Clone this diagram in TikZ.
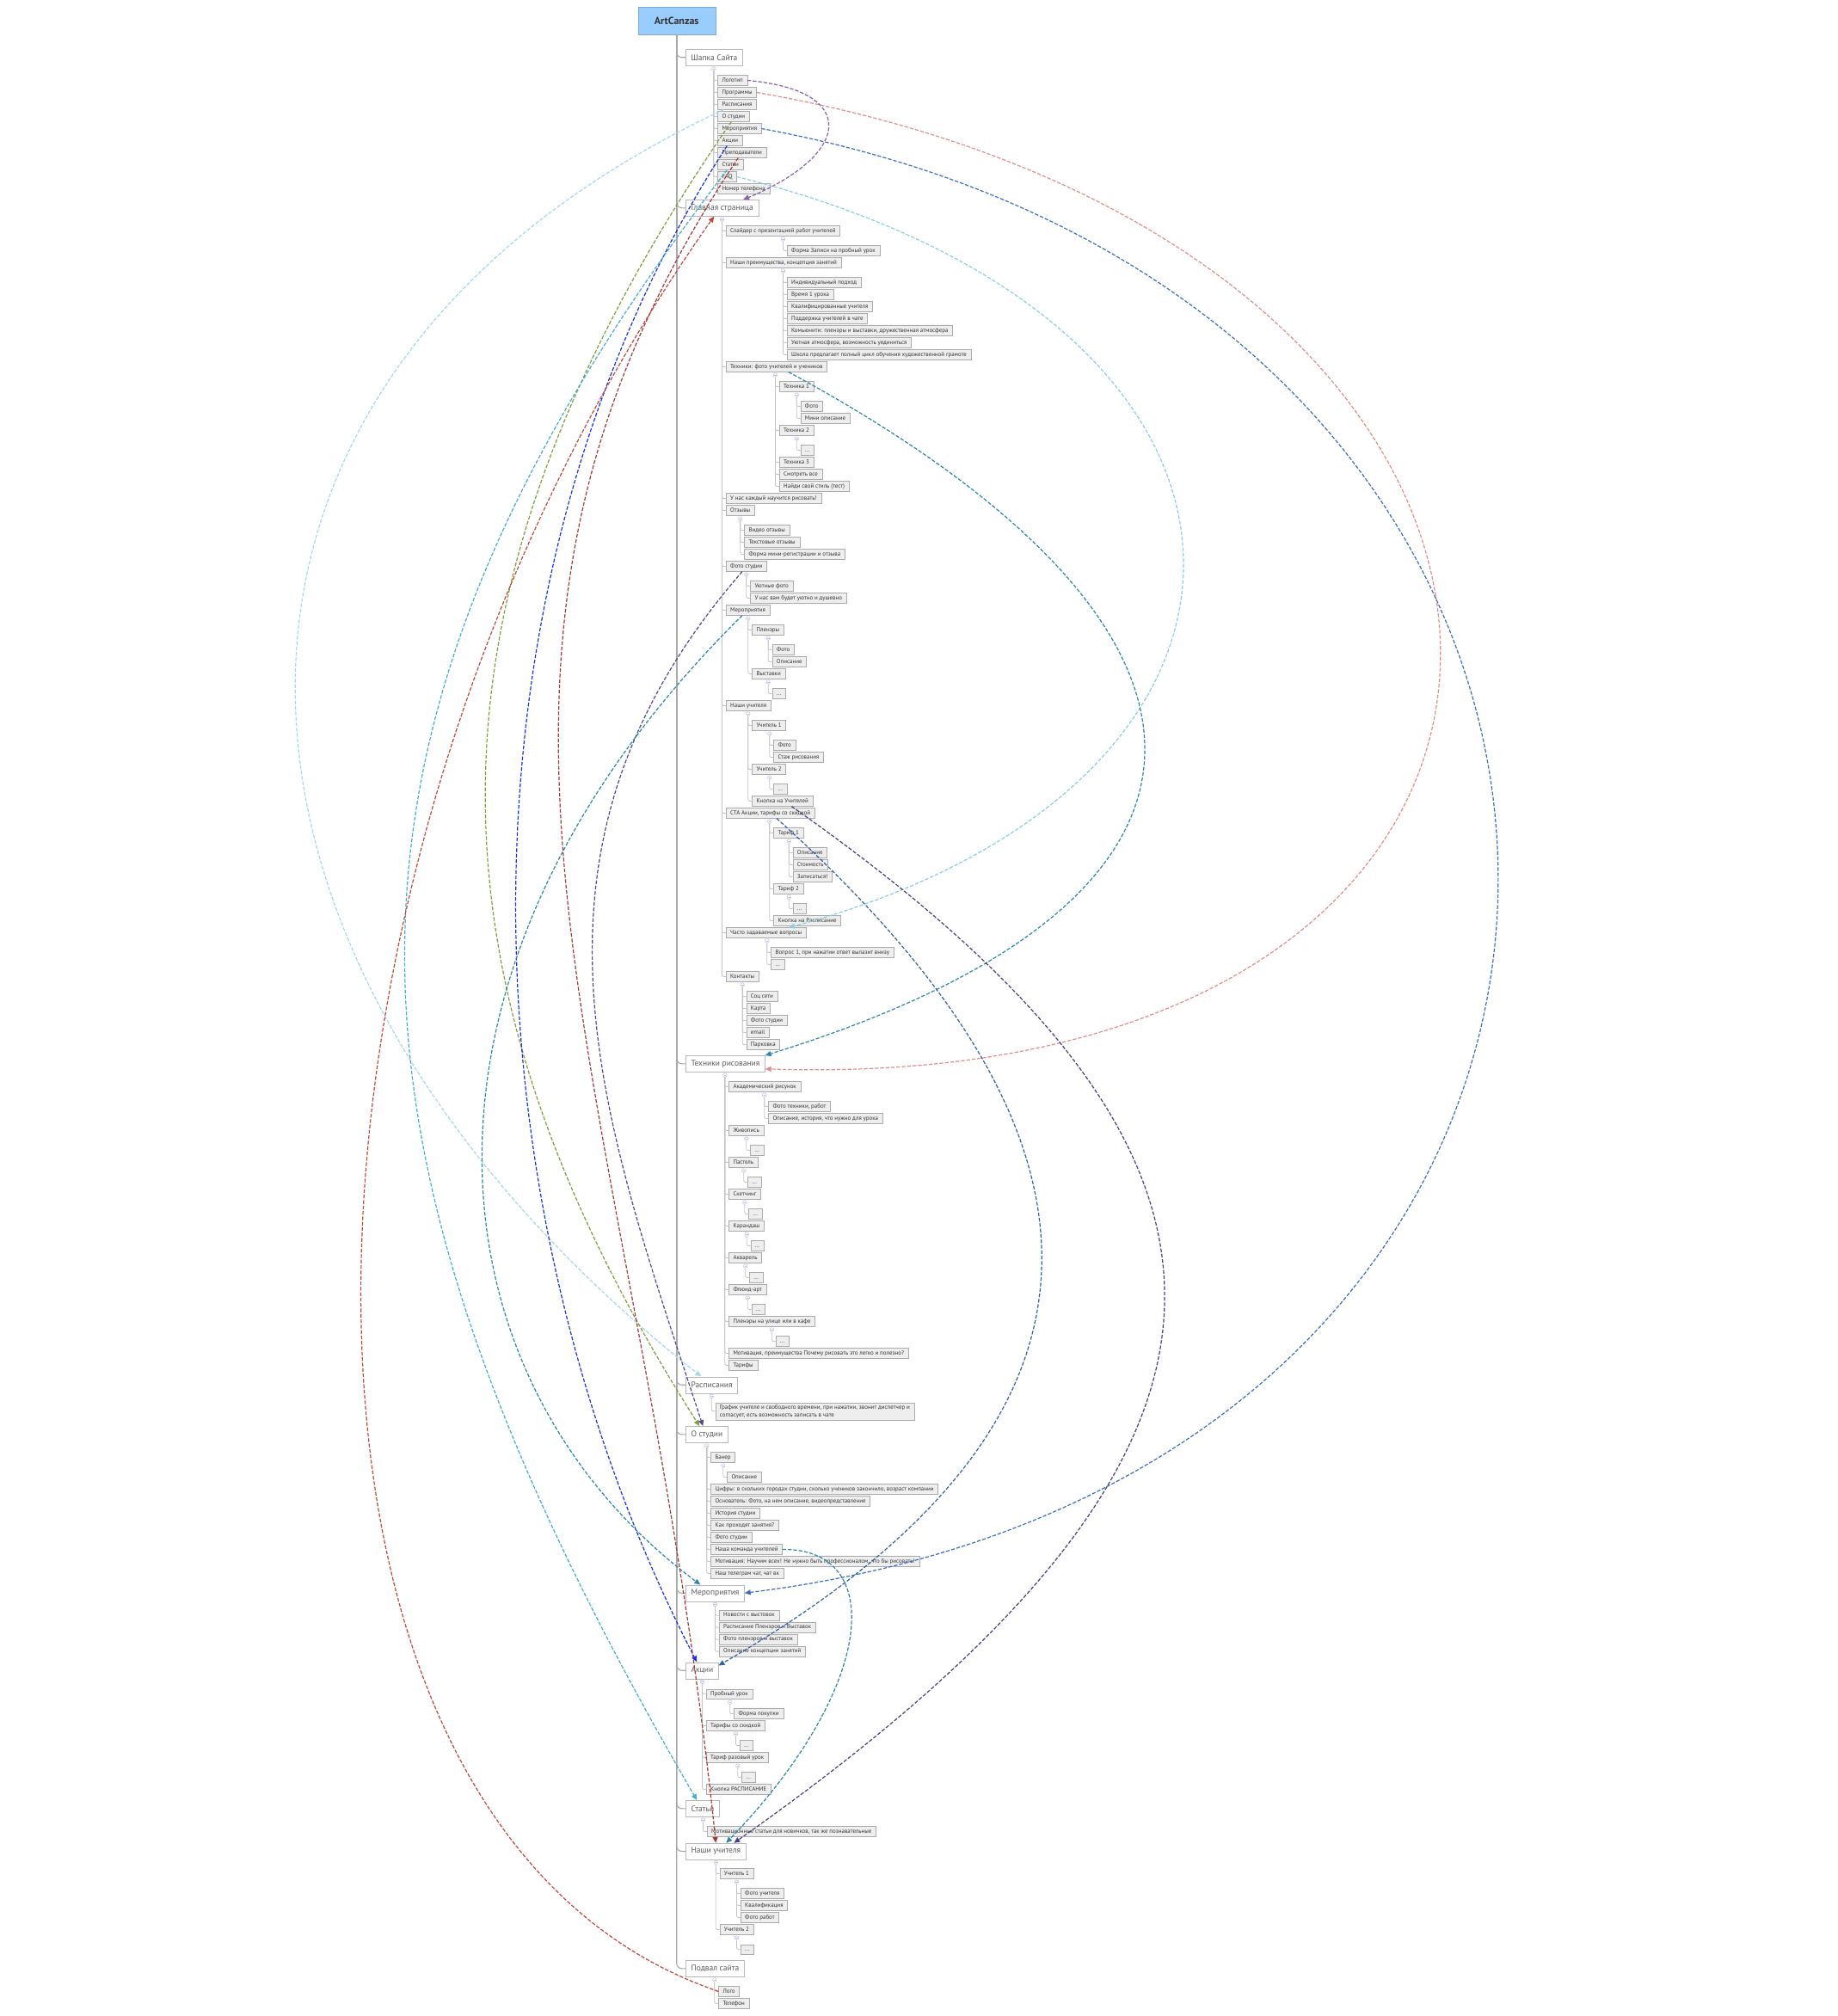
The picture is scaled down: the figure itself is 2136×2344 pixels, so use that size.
\documentclass[tikz,border=0pt]{standalone}
\usepackage{fontspec}
\setmainfont{PT Sans}
\usetikzlibrary{arrows.meta, calc, positioning}

\definecolor{rootfill}{HTML}{99CCFF}
\definecolor{rootline}{HTML}{7FA7D0}
\definecolor{topicline}{HTML}{B8B8B8}
\definecolor{itemfill}{HTML}{EEEEEE}
\definecolor{itemline}{HTML}{ABABAB}
\definecolor{trunkgray}{HTML}{A8A8A8}
\definecolor{branchgray}{HTML}{C4C4C4}
\definecolor{foldblue}{HTML}{B4C2E0}
\definecolor{txtdark}{HTML}{333333}
\definecolor{txtgray}{HTML}{5A5A5A}
\definecolor{relPurple}{HTML}{8462AE}
\definecolor{relPink}{HTML}{E38C8C}
\definecolor{relSky}{HTML}{A6D9E8}
\definecolor{relOlive}{HTML}{7F9E3C}
\definecolor{relBlue}{HTML}{1A2EF5}
\definecolor{relMaroon}{HTML}{A23A3A}
\definecolor{relCyan}{HTML}{45AECF}
\definecolor{relSkyB}{HTML}{8FCDE0}
\definecolor{relRed}{HTML}{C4473F}
\definecolor{relSteel}{HTML}{3C6FBF}
\definecolor{relTeal}{HTML}{2C87A6}
\definecolor{relGrape}{HTML}{56478C}
\definecolor{relNavy}{HTML}{4A3F7E}
\definecolor{relSteelB}{HTML}{3462A3}

\tikzset{
  root/.style={rectangle, draw=rootline, fill=rootfill, minimum width=90pt, minimum height=32pt,
               font=\fontsize{12}{14}\selectfont\bfseries, text=txtdark},
  topic/.style={rectangle, draw=topicline, fill=white, minimum height=19pt, inner xsep=6pt, inner ysep=0pt,
                font=\fontsize{9.5}{11}\selectfont, text=txtgray, anchor=west},
  itembox/.style={rectangle, draw=itemline, fill=itemfill, minimum height=11.7pt, inner xsep=5pt, inner ysep=0pt,
                  font=\fontsize{6.9}{9}\selectfont, text=txtdark, anchor=west},
  item/.style={itembox, text height=4.8pt, text depth=1.4pt},
  trunk/.style={draw=trunkgray, line width=1.1pt, rounded corners=6pt},
  branch/.style={draw=branchgray, line width=0.8pt, rounded corners=2pt},
  fold/.style={circle, draw=foldblue, fill=white, inner sep=0pt, minimum size=4.6pt, line width=0.5pt,
               path picture={\draw[foldblue, line width=0.5pt] ([xshift=-1.3pt]path picture bounding box.center) -- ([xshift=1.3pt]path picture bounding box.center);}},
  rel/.style={dash pattern=on 4.3pt off 2pt, line width=1.2pt, -{Triangle[length=7pt, width=6pt]}},
}

\begin{document}
\begin{tikzpicture}[x=1pt, y=-1pt]
  \useasboundingbox (0,0) rectangle (2136,2344);

  % root and main topics
  \node[root] (root) at (786.7,24.2) {ArtCanzas};
  \node[topic] (hdr) at (797.3,66.8) {Шапка Сайта};
  \node[topic] (home) at (797.3,241.8) {Главная страница};
  \node[topic] (tech) at (797.3,1236.8) {Техники рисования};
  \node[topic] (sched) at (797.3,1610.2) {Расписания};
  \node[topic] (about) at (797.3,1667.8) {О студии};
  \node[topic] (events) at (797.3,1852.2) {Мероприятия};
  \node[topic] (sales) at (797.3,1942.2) {Акции};
  \node[topic] (art) at (797.3,2102.8) {Статьи};
  \node[topic] (teachers) at (797.3,2152.5) {Наши учителя};
  \node[topic] (foot) at (797.3,2288.8) {Подвал сайта};

  \foreach \t in {hdr,home,tech,sched,about,events,sales,art,teachers,foot}
    \draw[trunk] (root.south) |- (\t.west);

  % Шапка Сайта
  \node[item] (hdrLogo) at (834.3,93.5) {Логотип};
  \node[item] (hdrProg) at (834.3,107.5) {Программы};
  \node[item] (hdrSched) at (834.3,121.5) {Расписания};
  \node[item] (hdrAbout) at (834.3,135.5) {О студии};
  \node[item] (hdrEvents) at (834.3,149.5) {Мероприятия};
  \node[item] (hdrSales) at (834.3,163.5) {Акции};
  \node[item] (hdrTeach) at (834.3,177.5) {Преподаватели};
  \node[item] (hdrArt) at (834.3,191.5) {Статьи};
  \node[item] (hdrFaq) at (834.3,205.5) {FAQ};
  \node[item] (hdrPhone) at (834.3,219.5) {Номер телефона};

  % Главная страница
  \node[item] (homeSlider) at (844,268.5) {Слайдер с презентацией работ учителей};
  \node[item] (homeForm) at (915,291.5) {Форма Записи на пробный урок};
  \node[item] (homeAdv) at (844,305.5) {Наши преимущества, концепция занятий};
  \node[item] (adv1) at (915,328.5) {Индивидуальный подход};
  \node[item] (adv2) at (915,342.5) {Время 1 урока};
  \node[item] (adv3) at (915,356.5) {Квалифицированные учителя};
  \node[item] (adv4) at (915,370.5) {Поддержка учителей в чате};
  \node[item] (adv5) at (915,384.5) {Комьюнити: пленэры и выставки, дружественная атмосфера};
  \node[item] (adv6) at (915,398.5) {Уютная атмосфера, возможность уединиться};
  \node[item] (adv7) at (915,412.5) {Школа предлагает полный цикл обучения художественной грамоте};
  \node[item] (homeTech) at (844,426.5) {Техники: фото учителей и учеников};
  \node[item] (tech1) at (906,449.5) {Техника 1};
  \node[item] (tech1a) at (930.7,472.5) {Фото};
  \node[item] (tech1b) at (930.7,486.5) {Мини описание};
  \node[item] (tech2) at (906,500.5) {Техника 2};
  \node[item] (tech2a) at (930.7,523.5) {...};
  \node[item] (tech3) at (906,537.5) {Техника 3};
  \node[item] (techAll) at (906,551.5) {Смотреть все};
  \node[item] (techTest) at (906,565.5) {Найди свой стиль (тест)};
  \node[item] (homeLearn) at (844,579.5) {У нас каждый научится рисовать!};
  \node[item] (homeRev) at (844,593.5) {Отзывы};
  \node[item] (rev1) at (865.3,616.5) {Видео отзывы};
  \node[item] (rev2) at (865.3,630.5) {Текстовые отзывы};
  \node[item] (rev3) at (865.3,644.5) {Форма мини-регистрации и отзыва};
  \node[item] (homePhoto) at (844,658.5) {Фото студии};
  \node[item] (photo1) at (872.3,681.5) {Уютные фото};
  \node[item] (photo2) at (872.3,695.5) {У нас вам будет уютно и душевно};
  \node[item] (homeEvents) at (844,709.5) {Мероприятия};
  \node[item] (evPlein) at (874.3,732.5) {Пленэры};
  \node[item] (evPlein1) at (897.7,755.5) {Фото};
  \node[item] (evPlein2) at (897.7,769.5) {Описание};
  \node[item] (evExpo) at (874.3,783.5) {Выставки};
  \node[item] (evExpo1) at (897.7,806.5) {...};
  \node[item] (homeTeach) at (844,820.5) {Наши учителя};
  \node[item] (teach1) at (874.3,843.5) {Учитель 1};
  \node[item] (teach1a) at (899.3,866.5) {Фото};
  \node[item] (teach1b) at (899.3,880.5) {Стаж рисования};
  \node[item] (teach2) at (874.3,894.5) {Учитель 2};
  \node[item] (teach2a) at (899.3,917.5) {...};
  \node[item] (teachBtn) at (874.3,931.5) {Кнопка на Учителей};
  \node[item] (homeCta) at (844,945.5) {CTA Акции, тарифы со скидкой};
  \node[item] (cta1) at (899.3,968.5) {Тариф 1};
  \node[item] (cta1a) at (921.7,991.5) {Описание};
  \node[item] (cta1b) at (921.7,1005.5) {Стоимость};
  \node[item] (cta1c) at (921.7,1019.5) {Записаться!};
  \node[item] (cta2) at (899.3,1033.5) {Тариф 2};
  \node[item] (cta2a) at (921.7,1056.5) {...};
  \node[item] (ctaBtn) at (899.3,1070.5) {Кнопка на Расписание};
  \node[item] (homeFaq) at (844,1084.5) {Часто задаваемые вопросы};
  \node[item] (faq1) at (896.3,1107.5) {Вопрос 1, при нажатии ответ вылазит внизу};
  \node[item] (faq2) at (896.3,1121.5) {...};
  \node[item] (homeCont) at (844,1135.5) {Контакты};
  \node[item] (cont1) at (867.7,1158.5) {Соц сети};
  \node[item] (cont2) at (867.7,1172.5) {Карта};
  \node[item] (cont3) at (867.7,1186.5) {Фото студии};
  \node[item] (cont4) at (867.7,1200.5) {email};
  \node[item] (cont5) at (867.7,1214.5) {Парковка};

  % Техники рисования
  \node[item] (techAcad) at (847.3,1263.5) {Академический рисунок};
  \node[item] (acad1) at (893.3,1286.5) {Фото техники, работ};
  \node[item] (acad2) at (893.3,1300.5) {Описание, история, что нужно для урока};
  \node[item] (techPaint) at (847.3,1314.5) {Живопись};
  \node[item] (paint1) at (872.3,1337.5) {...};
  \node[item] (techPast) at (847.3,1351.5) {Пастель};
  \node[item] (past1) at (869.3,1374.5) {...};
  \node[item] (techSketch) at (847.3,1388.5) {Скетчинг};
  \node[item] (sketch1) at (870.3,1411.5) {...};
  \node[item] (techPenc) at (847.3,1425.5) {Карандаш};
  \node[item] (penc1) at (872.7,1448.5) {...};
  \node[item] (techWater) at (847.3,1462.5) {Акварель};
  \node[item] (water1) at (871.3,1485.5) {...};
  \node[item] (techFluid) at (847.3,1499.5) {Флюид-арт};
  \node[item] (fluid1) at (873.7,1522.5) {...};
  \node[item] (techPlein) at (847.3,1536.5) {Пленэры на улице или в кафе};
  \node[item] (plein1) at (901.7,1559.5) {...};
  \node[item] (techMot) at (847.3,1573.5) {Мотивация, преимущества Почему рисовать это легко и полезно?};
  \node[item] (techTar) at (847.3,1587.5) {Тарифы};

  % Расписания
  \node[itembox, minimum height=20pt, align=left] (schedText) at (831.7,1640.7)
    {График учителе и свободного времени, при нажатии, звонит диспетчер и\\согласует, есть возможность записать в чате};

  % О студии
  \node[item] (aboutBan) at (826.3,1694.5) {Банер};
  \node[item] (ban1) at (845.3,1717.5) {Описание};
  \node[item] (aboutNum) at (826.3,1731.5) {Цифры: в скольких городах студии, сколько учеников закончило, возраст компании};
  \node[item] (aboutFound) at (826.3,1745.5) {Основатель: Фото, на нем описание, видеопредставление};
  \node[item] (aboutHist) at (826.3,1759.5) {История студии};
  \node[item] (aboutHow) at (826.3,1773.5) {Как проходят занятия?};
  \node[item] (aboutPhoto) at (826.3,1787.5) {Фото студии};
  \node[item] (aboutTeam) at (826.3,1801.5) {Наша команда учителей};
  \node[item] (aboutMot) at (826.3,1815.5) {Мотивация: Научим всех! Не нужно быть профессионалом, что бы рисовать!};
  \node[item] (aboutTg) at (826.3,1829.5) {Наш телеграм чат, чат вк};

  % Мероприятия
  \node[item] (ev1) at (836,1878.2) {Новости с выстовок};
  \node[item] (ev2) at (836,1892.2) {Расписание Пленэров и Выставок};
  \node[item] (ev3) at (836,1906.2) {Фото пленэров и выставок};
  \node[item] (ev4) at (836,1920.2) {Описание концепции занятий};

  % Акции
  \node[item] (saleTrial) at (821,1969.7) {Пробный урок};
  \node[item] (trial1) at (853.3,1992.5) {Форма покупки};
  \node[item] (saleDisc) at (821,2006.5) {Тарифы со скидкой};
  \node[item] (disc1) at (860,2029.5) {...};
  \node[item] (saleOne) at (821,2043.5) {Тариф разовый урок};
  \node[item] (one1) at (862.3,2066.5) {...};
  \node[item] (saleBtn) at (821,2080.5) {Кнопка РАСПИСАНИЕ};

  % Статьи
  \node[item] (art1) at (822,2129.5) {Мотивационные статьи для новичков, так же познавательные};

  % Наши учителя
  \node[item] (tchr1) at (836.7,2178.5) {Учитель 1};
  \node[item] (tchr1a) at (861,2201.5) {Фото учителя};
  \node[item] (tchr1b) at (861,2215.5) {Квалификация};
  \node[item] (tchr1c) at (861,2229.5) {Фото работ};
  \node[item] (tchr2) at (836.7,2243.5) {Учитель 2};
  \node[item] (tchr2a) at (861,2266.8) {...};

  % Подвал сайта
  \node[item] (footLogo) at (835.3,2315.3) {Лого};
  \node[item] (footPhone) at (835.3,2329.5) {Телефон};

  % branch lines with fold markers
  \foreach \p/\first/\kids in {
      hdr/hdrLogo/{hdrLogo,hdrProg,hdrSched,hdrAbout,hdrEvents,hdrSales,hdrTeach,hdrArt,hdrFaq,hdrPhone},
      home/homeSlider/{homeSlider,homeAdv,homeTech,homeLearn,homeRev,homePhoto,homeEvents,homeTeach,homeCta,homeFaq,homeCont},
      homeSlider/homeForm/{homeForm},
      homeAdv/adv1/{adv1,adv2,adv3,adv4,adv5,adv6,adv7},
      homeTech/tech1/{tech1,tech2,tech3,techAll,techTest},
      tech1/tech1a/{tech1a,tech1b},
      tech2/tech2a/{tech2a},
      homeRev/rev1/{rev1,rev2,rev3},
      homePhoto/photo1/{photo1,photo2},
      homeEvents/evPlein/{evPlein,evExpo},
      evPlein/evPlein1/{evPlein1,evPlein2},
      evExpo/evExpo1/{evExpo1},
      homeTeach/teach1/{teach1,teach2,teachBtn},
      teach1/teach1a/{teach1a,teach1b},
      teach2/teach2a/{teach2a},
      homeCta/cta1/{cta1,cta2,ctaBtn},
      cta1/cta1a/{cta1a,cta1b,cta1c},
      cta2/cta2a/{cta2a},
      homeFaq/faq1/{faq1,faq2},
      homeCont/cont1/{cont1,cont2,cont3,cont4,cont5},
      tech/techAcad/{techAcad,techPaint,techPast,techSketch,techPenc,techWater,techFluid,techPlein,techMot,techTar},
      techAcad/acad1/{acad1,acad2},
      techPaint/paint1/{paint1},
      techPast/past1/{past1},
      techSketch/sketch1/{sketch1},
      techPenc/penc1/{penc1},
      techWater/water1/{water1},
      techFluid/fluid1/{fluid1},
      techPlein/plein1/{plein1},
      sched/schedText/{schedText},
      about/aboutBan/{aboutBan,aboutNum,aboutFound,aboutHist,aboutHow,aboutPhoto,aboutTeam,aboutMot,aboutTg},
      aboutBan/ban1/{ban1},
      events/ev1/{ev1,ev2,ev3,ev4},
      sales/saleTrial/{saleTrial,saleDisc,saleOne,saleBtn},
      saleTrial/trial1/{trial1},
      saleDisc/disc1/{disc1},
      saleOne/one1/{one1},
      art/art1/{art1},
      teachers/tchr1/{tchr1,tchr2},
      tchr1/tchr1a/{tchr1a,tchr1b,tchr1c},
      tchr2/tchr2a/{tchr2a},
      foot/footLogo/{footLogo,footPhone}} {
    \node[fold] (f-\p) at ($(\p.south -| \first.west)+(-4.5,3.5)$) {};
    \foreach \c in \kids
      \draw[branch] (f-\p.south) |- (\c.west);
  }

  % relationships
  \draw[rel, draw=relPurple] (hdrLogo.east) .. controls (1000,105) and (990,180) .. ([xshift=-18pt]home.north east);
  \draw[rel, draw=relPink] (hdrProg.east) .. controls (1937,292) and (1937,1276) .. ([yshift=-6pt]tech.east);
  \draw[rel, draw=relSky] ([xshift=7pt]hdrSched.south west) .. controls (180,436) and (185,1100) .. ([xshift=18pt]sched.north west);
  \draw[rel, draw=relOlive] ([xshift=16pt]hdrAbout.south west) .. controls (480,679) and (472,1121) .. ([xshift=16pt]about.north west);
  \draw[rel, draw=relBlue] ([xshift=11pt]hdrSales.south west) .. controls (508,690) and (540,1410) .. ([xshift=13pt]sales.north west);
  \draw[rel, draw=relMaroon] ([xshift=24pt]hdrTeach.south west) .. controls (458,783) and (739,1243) .. ([xshift=35pt]teachers.north west);
  \draw[rel, draw=relCyan] ([xshift=11pt]hdrArt.south west) .. controls (345,853) and (359,1317) .. ([xshift=13pt]art.north west);
  \draw[rel, draw=relSkyB] (hdrFaq.east) .. controls (1537,375) and (1538,911) .. ([xshift=73pt]homeFaq.north west);
  \draw[rel, draw=relSteel] (hdrEvents.east) .. controls (2030,360) and (2029,1708) .. (events.east);
  \draw[rel, draw=relRed] (footLogo.west) .. controls (275,2125) and (290,1019) .. ([xshift=33pt]home.south west);
  \draw[rel, draw=relTeal] ([xshift=14pt]homeTech.south) .. controls (1472,733) and (1473,1047) .. (tech.north east);
  \draw[rel, draw=relGrape] ([xshift=19pt]homePhoto.south west) .. controls (580,990) and (700,1300) .. ([xshift=20pt]about.north west);
  \draw[rel, draw=relTeal] ([xshift=19pt]homeEvents.south west) .. controls (443,1130) and (494,1604) .. ([xshift=17pt]events.north west);
  \draw[rel, draw=relNavy] ([xshift=46pt]teachBtn.south west) .. controls (1510,1351) and (1507,1683) .. ([xshift=56pt]teachers.north west);
  \draw[rel, draw=relSteelB] ([xshift=59pt]homeCta.south west) .. controls (1330,1335) and (1317,1659) .. ([yshift=-4pt]sales.north east);
  \draw[rel, draw=relTeal] (aboutTeam.east) .. controls (1030,1800) and (1020,1960) .. ([xshift=47pt]teachers.north west);

\end{tikzpicture}
\end{document}
